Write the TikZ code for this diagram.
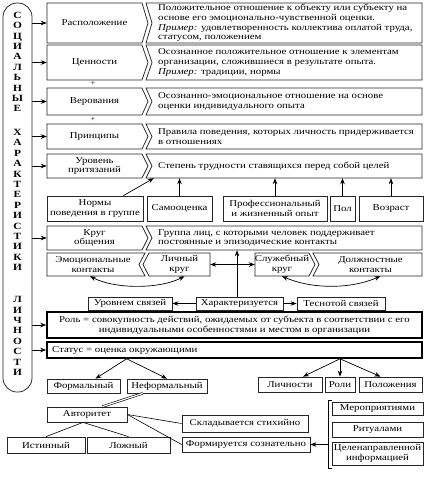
\documentclass[tikz,border=0pt]{standalone}
\usepackage{fontspec}
\setmainfont{Liberation Serif}[FakeStretch=1.2]
\usetikzlibrary{arrows.meta,fit,calc}
\newcommand\rowLD[6]{%
  \draw[frame] (47,#3) -- (142,#3) -- (148,{(#3+#4)/2}) -- (142,#4) -- (47,#4) -- cycle;
  \node[area, fit={(47,#3) (142,#4)}] (#1) {};
  \node[txt] (#1t) at (#1.center) {#5};
  \draw[frame] (146,#3) -- (422,#3) -- (422,#4) -- (146,#4) -- (152,{(#3+#4)/2}) -- cycle;
  \node[area, fit={(152,#3) (422,#4)}] (#2) {};
  \node[dtxt] (#2t) at (158,{(#3+#4)/2}) {#6};
  \draw[arr] (side.east |- #1.west) -- (#1.west);
}
\newcommand\cbox[6]{%
  \node[frame, area, fit={(#2,#3) (#4,#5)}] (#1) {};
  \node[txt] (#1t) at (#1.center) {#6};
}
\begin{document}
\begin{tikzpicture}[x=1pt,y=-1pt,
  frame/.style={draw=black!85, line width=0.75pt},
  heavy/.style={draw=black, line width=1.6pt},
  txt/.style={font=\fontsize{9}{9.7}\selectfont, inner sep=0pt, align=center},
  dtxt/.style={font=\fontsize{9}{9.7}\selectfont, inner sep=0pt, align=left, anchor=west},
  area/.style={inner sep=0pt},
  arr/.style={-{Stealth[length=6pt,width=4.5pt]}, line width=0.7pt},
  darr/.style={{Stealth[length=6pt,width=4.5pt]}-{Stealth[length=6pt,width=4.5pt]}, line width=0.7pt},
  lnk/.style={line width=0.6pt},
  letters/.style={font=\bfseries\fontsize{9.5}{10.4}\selectfont, inner sep=0pt, align=center},
]
\fill[white] (0,0) rectangle (431,477);
\useasboundingbox (0,0) rectangle (431,477);

% side oval
\node[frame, rounded corners=14pt, area, fit={(3,3) (32,392)}] (side) {};
\node[letters] (w1) at (17.5,62) {С\\О\\Ц\\И\\А\\Л\\Ь\\Н\\Ы\\Е};
\node[letters] (w2) at (17.5,200) {Х\\А\\Р\\А\\К\\Т\\Е\\Р\\И\\С\\Т\\И\\К\\И};
\node[letters] (w3) at (17.5,336) {Л\\И\\Ч\\Н\\О\\С\\Т\\И};

% rows
\rowLD{L1}{D1}{3}{43}{Расположение}{Положительное отношение к объекту или субъекту на\\основе его эмоционально-чувственной оценки.\\\textit{Пример:} удовлетворенность коллектива оплатой труда,\\статусом, положением}
\rowLD{L2}{D2}{45}{80}{Ценности}{Осознанное положительное отношение к элементам\\организации, сложившиеся в результате опыта.\\\textit{Пример:} традиции, нормы}
\rowLD{L3}{D3}{88}{115}{Верования}{Осознанно-эмоциональное отношение на основе\\оценки индивидуального опыта}
\rowLD{L4}{D4}{124}{149}{Принципы}{Правила поведения, которых личность придерживается\\в отношениях}
\rowLD{L5}{D5}{154}{178}{Уровень\\притязаний}{Степень трудности ставящихся перед собой целей}
\rowLD{L6}{D6}{226}{250}{Круг\\общения}{Группа лиц, с которыми человек поддерживает\\постоянные и эпизодические контакты}

\node[txt, font=\fontsize{7}{7}\selectfont] (plus1) at (93,84) {+};
\node[txt, font=\fontsize{7}{7}\selectfont] (plus2) at (93,119.5) {+};

% factors
\cbox{N1}{47}{196}{143}{221}{Нормы\\поведения в группе}
\cbox{N2}{147}{196}{212}{221}{Самооценка}
\cbox{N3}{223}{196}{327}{221}{Профессиональный\\и жизненный опыт}
\cbox{N4}{330}{196}{355}{221}{Пол}
\cbox{N5}{359}{196}{423}{221}{Возраст}
\draw[arr] ([xshift=-20pt]N1.north east) -- ([xshift=2pt]D5.south west);
\foreach \n in {N2,N3,N4,N5} \draw[arr] (\n.north) -- (\n.north |- D5.south);

% contacts
\draw[frame] (47,253) -- (145,253) -- (139,264.5) -- (145,276) -- (47,276) -- cycle;
\node[area, fit={(47,253) (139,276)}] (E1) {};
\node[txt] (E1t) at (E1.center) {Эмоциональные\\контакты};
\draw[frame] (149,253) -- (210,253) -- (210,276) -- (149,276) -- (143,264.5) -- cycle;
\node[area, fit={(149,253) (210,276)}] (E2) {};
\node[txt] (E2t) at (E2.center) {Личный\\круг};
\draw[frame] (255,253) -- (309,253) -- (315,264.5) -- (309,276) -- (255,276) -- cycle;
\node[area, fit={(255,253) (309,276)}] (E3) {};
\node[txt] (E3t) at (E3.center) {Служебный\\круг};
\draw[frame] (313,253) -- (422,253) -- (422,276) -- (313,276) -- (319,264.5) -- cycle;
\node[area, fit={(319,253) (422,276)}] (E4) {};
\node[txt] (E4t) at (E4.center) {Должностные\\контакты};
\draw[darr] ([xshift=-3pt]E1.south) .. controls +(25,13) and +(-25,13) .. ([xshift=5pt]E2.south);
\draw[darr] (E3.south) .. controls +(30,13) and +(-30,13) .. ([xshift=10pt]E4.south);

\cbox{U1}{88}{297}{172}{310}{Уровнем связей}
\cbox{U2}{196}{297}{283}{310}{Характеризуется}
\cbox{U3}{297}{297}{385}{310}{Теснотой связей}
\draw[arr] (U2.west) -- (U1.east);
\draw[arr] (U2.east) -- (U3.west);
\coordinate (vx) at (237,0);
\draw[arr] (U2.north -| vx) -- (vx |- D6.south);
\draw[darr] (E2.east) -- (E3.west);

% role and status
\node[heavy, area, fit={(47,312) (422,338)}] (role) {};
\node[txt] (rolet) at (role.center) {Роль = совокупность действий, ожидаемых от субъекта в соответствии с его\\индивидуальными особенностями и местом в организации};
\draw[arr] (side.east |- role.west) -- (role.west);
\node[heavy, area, fit={(47,342) (422,358)}] (stat) {};
\node[dtxt] (statt) at (52,350) {Статус = оценка окружающими};
\draw[arr] (side.east |- stat.west) -- (stat.west);

% status kinds
\cbox{F1}{47}{379}{120}{393}{Формальный}
\cbox{F2}{127}{379}{207}{393}{Неформальный}
\cbox{P1}{258}{377}{322}{392}{Личности}
\cbox{P2}{325}{377}{355}{392}{Роли}
\cbox{P3}{359}{377}{422}{392}{Положения}
\coordinate (a1) at (stat.south -| F2.west);
\coordinate (a2) at (stat.south -| P2.north);
\draw[arr] (a1) -- ([xshift=12pt]F1.north);
\draw[arr] (a1) -- (F2.north);
\draw[arr] (a2) -- ([xshift=13pt]P1.north);
\draw[arr] (a2) -- (P2.north);
\draw[arr] (a2) -- ([xshift=-10pt]P3.north);

% authority
\cbox{AV}{47}{407}{127}{422}{Авторитет}
\draw[lnk, double, double distance=1.2pt] ([xshift=16pt]F2.south west) -- ([xshift=-25pt]AV.north east);
\cbox{I1}{7}{437}{85}{453}{Истинный}
\cbox{I2}{87}{437}{170}{453}{Ложный}
\draw[lnk] ([xshift=-4pt]AV.south) -- (I1.north);
\draw[lnk] ([xshift=-4pt]AV.south) -- (I2.north);
\cbox{S1}{182}{415}{308}{432}{Складывается стихийно}
\cbox{S2}{182}{437}{310}{452}{Формируется сознательно}
\draw[lnk] (AV.east) -- (S1.west);
\draw[lnk] (AV.east) -- (S2.west);
\cbox{M1}{332}{402}{423}{415}{Мероприятиями}
\cbox{M2}{332}{422}{423}{437}{Ритуалами}
\cbox{M3}{332}{442}{423}{465}{Целенаправленной\\информацией}
\coordinate (bt) at (328,400);
\coordinate (bb) at (328,468);
\draw[lnk] (M1.north west |- bt) -- (bt) -- (bb) -- (M3.south west |- bb);
\draw[arr] (bt |- S2.east) -- (S2.east);
\end{tikzpicture}
\end{document}
